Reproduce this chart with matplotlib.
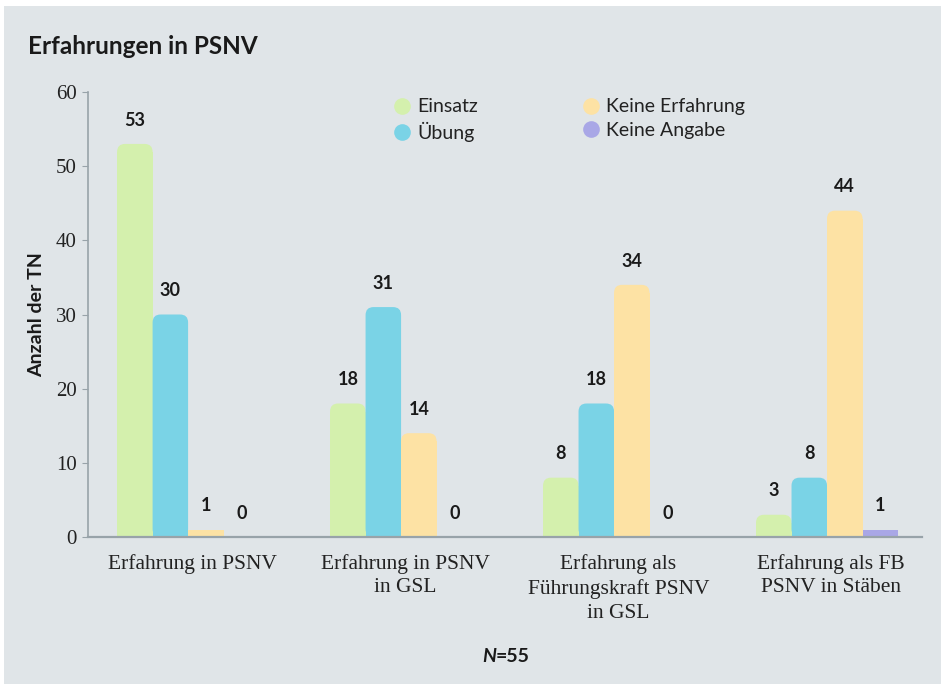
import numpy as np
import matplotlib
matplotlib.use("Agg")
import matplotlib.pyplot as plt
from matplotlib.patches import Rectangle, FancyBboxPatch
from matplotlib.lines import Line2D

# data
categories = ["Erfahrung in PSNV",
              "Erfahrung in PSNV\nin GSL",
              "Erfahrung als\nFührungskraft PSNV\nin GSL",
              "Erfahrung als FB\nPSNV in Stäben"]
series_names = ["Einsatz", "Übung", "Keine Erfahrung", "Keine Angabe"]
einsatz = [53, 18, 8, 3]
uebung = [30, 31, 18, 8]
keine_erfahrung = [1, 14, 34, 44]
keine_angabe = [0, 0, 0, 1]
colors = ["#d4f0ad", "#7ad3e6", "#fde2a4", "#a9a7e6"]

BG = "#e0e5e8"
AXIS = "#98a3a9"
SANS = ["Lato", "DejaVu Sans"]
SERIF = ["Liberation Serif", "DejaVu Serif"]

fig = plt.figure(figsize=(9.44, 6.84), dpi=100, facecolor="white")
fig.patches.append(Rectangle((4 / 944, 0), 937 / 944, 678 / 684,
                             transform=fig.transFigure, facecolor=BG,
                             edgecolor="none", zorder=-10))

ax = fig.add_axes([88 / 944, 1 - 537 / 684, 834 / 944, 445 / 684])
ax.set_facecolor("none")

x = np.arange(len(categories))
w = 0.1667
all_series = [einsatz, uebung, keine_erfahrung, keine_angabe]

# rounding of the bar tops, in pixels converted to data units
px_x = 1 / 213.0
px_y = 60 / 445.0
r = 8 * px_x
aspect = px_y / px_x

for i, (vals, col, name) in enumerate(zip(all_series, colors, series_names)):
    pos = x + (i - 1.5) * w
    bars = ax.bar(pos, vals, width=w, color=col, linewidth=0, label=name)
    for b, v in zip(bars, vals):
        bx, bw = b.get_x(), b.get_width()
        if v * 1.0 > 2.5 * r * aspect:
            b.set_height(v - r * aspect)
            ax.add_patch(FancyBboxPatch((bx, 0), bw, v,
                                        boxstyle="round,pad=0,rounding_size=%f" % r,
                                        mutation_aspect=aspect,
                                        facecolor=col, edgecolor="none"))
        ax.annotate(str(v), (bx + bw / 2, v), xytext=(0, 11),
                    textcoords="offset points", ha="center", va="bottom",
                    fontsize=13, fontweight="bold", family=SANS, color="#1a1a1a")

ax.set_xlim(-0.47, 3.446)
ax.set_ylim(0, 60)
ax.set_yticks(range(0, 61, 10))
ax.set_xticks(x + 0.02)
ax.set_xticklabels(categories, family=SERIF, fontsize=15.5, color="#222222",
                   linespacing=1.35)
for lab in ax.get_yticklabels():
    lab.set_family(SERIF)
    lab.set_fontsize(15)
    lab.set_color("#222222")

for s in ["top", "right"]:
    ax.spines[s].set_visible(False)
ax.spines["left"].set_color(AXIS)
ax.spines["bottom"].set_color(AXIS)
ax.spines["left"].set_linewidth(1.2)
ax.spines["bottom"].set_linewidth(1.6)
ax.tick_params(axis="y", length=4, color=AXIS, pad=4)
ax.tick_params(axis="x", length=0, pad=12)

ax.set_ylabel("Anzahl der TN", family=SANS, fontweight="bold", fontsize=14,
              color="#1a1a1a", labelpad=8)

handles = [Line2D([], [], marker="o", linestyle="none", markersize=12,
                  markerfacecolor=c, markeredgecolor="none") for c in colors]
ax.legend(handles, series_names, ncol=2, loc="upper left",
          bbox_to_anchor=(0.355, 1.003), frameon=False, borderaxespad=0,
          handletextpad=0.3, columnspacing=5.3, labelspacing=0.33,
          handlelength=1.0, prop={"family": SANS, "size": 14})
for t in ax.get_legend().get_texts():
    t.set_color("#222222")

fig.text(28 / 944, 1 - 47 / 684, "Erfahrungen in PSNV", family=SANS,
         fontweight="bold", fontsize=17.5, ha="left", va="center", color="#1a1a1a")

fig.text(496 / 944, 1 - 657 / 684, "N", family=SANS, fontweight="bold",
         style="italic", fontsize=14, ha="right", va="center", color="#1a1a1a")
fig.text(496 / 944, 1 - 657 / 684, "=55", family=SANS, fontweight="bold",
         fontsize=14, ha="left", va="center", color="#1a1a1a")

fig.savefig("out.png", dpi=100, facecolor=fig.get_facecolor())
